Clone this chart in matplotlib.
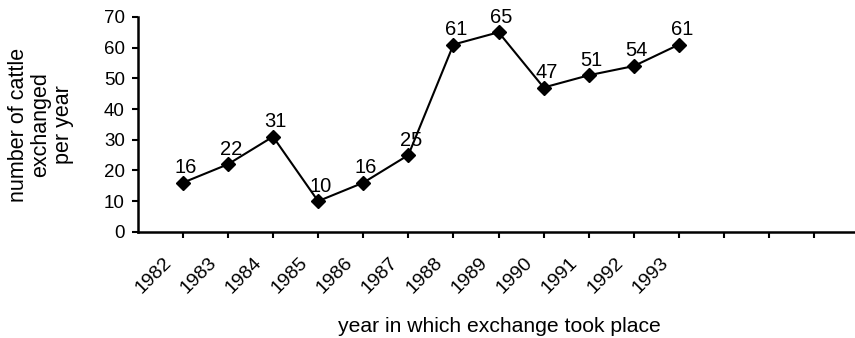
import matplotlib
matplotlib.use('Agg')
import matplotlib.pyplot as plt
import matplotlib.transforms as mtransforms

plt.rcParams['font.family'] = ['Liberation Sans', 'DejaVu Sans']

years = ['1982', '1983', '1984', '1985', '1986', '1987',
         '1988', '1989', '1990', '1991', '1992', '1993']
cattle = [16, 22, 31, 10, 16, 25, 61, 65, 47, 51, 54, 61]

fig = plt.figure(figsize=(8.55, 3.38), dpi=100)
ax = fig.add_axes([0.161, 0.314, 0.839, 0.636])

pos = list(range(1, len(years) + 1))
ax.plot(pos, cattle, color='black', lw=1.5, marker='D', markersize=7)

for x, v in zip(pos, cattle):
    ax.annotate(str(v), (x, v), xytext=(2, 4), textcoords='offset points',
                ha='center', va='bottom', fontsize=14.5)

ax.set_xlim(0, 15.9)
ax.set_ylim(0, 70)
ax.set_yticks(range(0, 71, 10))
ax.set_xticks(range(1, 16))
ax.set_xticklabels(years + [''] * 3, rotation=45, ha='right', va='center',
                   rotation_mode='anchor', fontsize=14)
ax.tick_params(axis='y', labelsize=13.5, width=1.5, length=4.3, pad=5)
ax.tick_params(axis='x', width=1.5, length=4)

# shift rotated year labels down/left like the original
shift = mtransforms.ScaledTranslation(-9.7 / 72, -13 / 72, fig.dpi_scale_trans)
for lab in ax.get_xticklabels():
    lab.set_transform(lab.get_transform() + shift)

for s in ['top', 'right']:
    ax.spines[s].set_visible(False)
for s in ['left', 'bottom']:
    ax.spines[s].set_linewidth(1.8)

fig.text(41 / 855, 1 - 125 / 338, 'number of cattle\nexchanged\nper year',
         rotation=90, ha='center', va='center', multialignment='center',
         fontsize=15.5, linespacing=1.1)
fig.text(499 / 855, 6 / 338, 'year in which exchange took place',
         ha='center', va='baseline', fontsize=15.2)

fig.savefig('out.png', dpi=100)
